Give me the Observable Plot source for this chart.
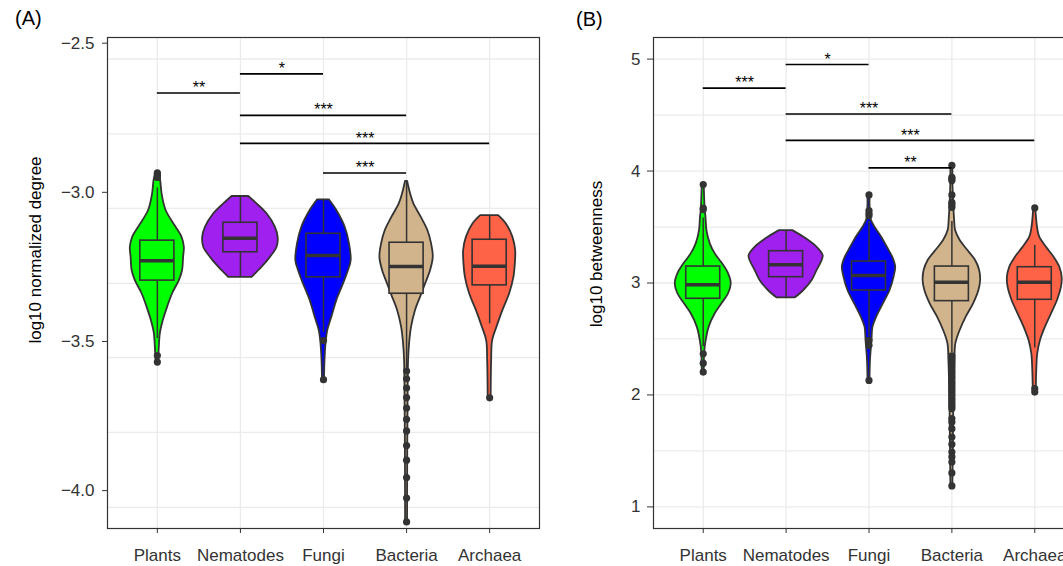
<!DOCTYPE html>
<html><head><meta charset="utf-8">
<script src="https://cdn.jsdelivr.net/npm/d3@7"></script>
<script src="https://cdn.jsdelivr.net/npm/@observablehq/plot@0.6"></script>
<style>
html,body{margin:0;padding:0;overflow:hidden;background:#fff;}
#wrap{position:relative;width:1063px;height:566px;overflow:hidden;font-family:"Liberation Sans",Arial,sans-serif;}
#pa,#pb{position:absolute;top:0;}
#pa{left:0;width:545px;} #pb{left:545px;width:539px;}
#wrap svg{max-width:none !important;}
.tag{position:absolute;font-size:20px;line-height:1;color:#000;}
</style></head><body>
<div id="wrap"><div id="pa"></div><div id="pb"></div>
<div class="tag" style="left:15px;top:8px">(A)</div>
<div class="tag" style="left:576px;top:9px">(B)</div></div>
<script>
// ---------- categories & colours ----------
const categories = ["Plants", "Nematodes", "Fungi", "Bacteria", "Archaea"];
const palette = ["#00FF00", "#A020F0", "#0000FF", "#D2B48C", "#FF6347"];

// ---------- Panel A: log10 normalized degree ----------
// violin outlines: [value, half-width (x units)]
const vA_Plants = [[-2.935,0.012],[-2.944,0.024],[-2.961,0.040],[-3.005,0.057],[-3.061,0.105],[-3.117,0.225],[-3.151,0.297],[-3.184,0.325],[-3.218,0.316],[-3.262,0.304],[-3.296,0.265],[-3.340,0.184],[-3.385,0.124],[-3.430,0.072],[-3.474,0.036],[-3.519,0.024],[-3.569,0.015]];
const vA_Nematodes = [[-3.014,0.100],[-3.039,0.200],[-3.072,0.320],[-3.117,0.420],[-3.151,0.454],[-3.184,0.442],[-3.218,0.361],[-3.251,0.261],[-3.285,0.141]];
const vA_Fungi = [[-3.025,0.070],[-3.061,0.160],[-3.117,0.261],[-3.173,0.313],[-3.229,0.333],[-3.262,0.301],[-3.307,0.241],[-3.363,0.160],[-3.419,0.100],[-3.463,0.052],[-3.508,0.030],[-3.564,0.018],[-3.628,0.012]];
const vA_Bacteria = [[-2.963,0.012],[-3.005,0.048],[-3.039,0.088],[-3.084,0.177],[-3.128,0.256],[-3.173,0.301],[-3.218,0.321],[-3.262,0.289],[-3.307,0.229],[-3.352,0.168],[-3.396,0.108],[-3.452,0.060],[-3.508,0.036],[-3.564,0.024],[-3.698,0.018],[-3.865,0.014],[-4.105,0.012]];
const vA_Archaea = [[-3.078,0.108],[-3.106,0.201],[-3.151,0.280],[-3.195,0.313],[-3.240,0.309],[-3.285,0.292],[-3.340,0.241],[-3.396,0.160],[-3.452,0.088],[-3.497,0.036],[-3.564,0.024],[-3.689,0.018]];
// box statistics
const boxA_lo  = [-3.490, -3.285, -3.470, -3.590, -3.441];
const boxA_q1  = [-3.296, -3.201, -3.285, -3.340, -3.312];
const boxA_med = [-3.229, -3.154, -3.212, -3.249, -3.248];
const boxA_q3  = [-3.162, -3.102, -3.139, -3.169, -3.159];
const boxA_hi  = [-2.985, -3.016, -3.027, -2.965, -3.080];
// outliers
const outA_Plants = [-2.935, -2.940, -2.945, -2.950, -3.547, -3.569];
const outA_Nematodes = [];
const outA_Fungi = [-3.497, -3.628];
const outA_Bacteria = [-3.599, -3.625, -3.656, -3.688, -3.723, -3.761, -3.800, -3.849, -3.898, -3.956, -4.025, -4.105];
const outA_Archaea = [-3.689];
// significance brackets (category index from/to)
const brA_from = [1, 2, 2, 2, 3];
const brA_to   = [2, 3, 4, 5, 4];
const brA_y    = [-2.667, -2.603, -2.742, -2.836, -2.935];
const brA_lab  = ["**", "*", "***", "***", "***"];
// axis
const ticksA = [-4.0, -3.5, -3.0, -2.5];
const gridA = [-2.553, -2.804, -3.054, -3.305, -3.554, -3.805, -4.056];
const domainA = [-4.127, -2.481];

// ---------- Panel B: log10 betweenness ----------
const vB_Plants = [[3.879,0.012],[3.647,0.024],[3.587,0.033],[3.468,0.045],[3.350,0.085],[3.260,0.145],[3.171,0.233],[3.082,0.306],[2.993,0.338],[2.904,0.306],[2.814,0.226],[2.725,0.145],[2.606,0.072],[2.487,0.036],[2.383,0.018],[2.204,0.012]];
const vB_Nematodes = [[3.468,0.081],[3.409,0.214],[3.319,0.374],[3.245,0.447],[3.201,0.435],[3.112,0.374],[3.022,0.314],[2.933,0.214],[2.868,0.112]];
const vB_Fungi = [[3.787,0.012],[3.602,0.018],[3.558,0.030],[3.498,0.072],[3.409,0.153],[3.319,0.221],[3.230,0.286],[3.141,0.322],[3.052,0.302],[2.933,0.254],[2.814,0.173],[2.695,0.093],[2.606,0.048],[2.487,0.036],[2.308,0.018],[2.130,0.012]];
const vB_Bacteria = [[4.057,0.012],[3.825,0.015],[3.558,0.033],[3.468,0.045],[3.379,0.100],[3.290,0.193],[3.201,0.286],[3.112,0.335],[3.022,0.347],[2.933,0.326],[2.814,0.262],[2.695,0.173],[2.576,0.100],[2.458,0.048],[2.308,0.036],[1.952,0.024],[1.595,0.018],[1.187,0.012]];
const vB_Archaea = [[3.671,0.012],[3.498,0.033],[3.409,0.060],[3.319,0.141],[3.230,0.233],[3.141,0.302],[3.052,0.330],[2.963,0.322],[2.844,0.274],[2.725,0.202],[2.606,0.129],[2.487,0.069],[2.368,0.036],[2.220,0.024],[2.026,0.018]];
const boxB_lo  = [2.430, 2.870, 2.520, 2.380, 2.420];
const boxB_q1  = [2.859, 3.052, 2.933, 2.838, 2.850];
const boxB_med = [2.984, 3.162, 3.067, 3.007, 3.007];
const boxB_q3  = [3.147, 3.284, 3.192, 3.147, 3.141];
const boxB_hi  = [3.580, 3.465, 3.550, 3.550, 3.335];
const outB_Plants = [3.879, 3.670, 3.656, 2.368, 2.284, 2.204];
const outB_Nematodes = [];
const outB_Fungi = [3.787, 3.647, 3.620, 3.600, 2.487, 2.443, 2.130];
const outB_Bacteria = [4.050, 3.944, 3.930, 3.915, 3.787, 3.720, 3.700, 3.676,
  2.350, 2.324, 2.300, 2.279, 2.257, 2.235, 2.210, 2.190, 2.168, 2.145, 2.120, 2.101, 2.080, 2.056, 2.035, 2.012, 1.990, 1.967, 1.945, 1.922, 1.900, 1.878, 1.789, 1.758, 1.699, 1.624, 1.559, 1.490, 1.446, 1.401, 1.303, 1.187];
const outB_Archaea = [3.671, 2.056, 2.026];
const brB_from = [1, 2, 2, 2, 3];
const brB_to   = [2, 3, 4, 5, 4];
const brB_y    = [4.741, 4.952, 4.509, 4.274, 4.028];
const brB_lab  = ["***", "*", "***", "***", "**"];
const ticksB = [1, 2, 3, 4, 5];
const gridB = [1, 1.5, 2, 2.5, 3, 3.5, 4, 4.5, 5];
const domainB = [0.807, 5.193];

// ---------- drawing ----------
const FONT = '"Liberation Sans", Arial, Helvetica, sans-serif';
const BOX = 0.205;
const idx = categories.map((c, i) => i + 1);

function panel(cfg) {
  const vrows = [];
  cfg.violins.forEach((arr, i) => arr.forEach(([v, w]) => vrows.push({cat: categories[i], i: i + 1, v, w})));
  const brows = categories.map((c, i) => ({cat: c, i: i + 1, lo: cfg.lo[i], q1: cfg.q1[i], med: cfg.med[i], q3: cfg.q3[i], hi: cfg.hi[i]}));
  const orows = [];
  cfg.outliers.forEach((arr, i) => arr.forEach(v => orows.push({i: i + 1, v})));
  const brk = cfg.brFrom.map((f, k) => ({from: f, to: cfg.brTo[k], y: cfg.brY[k], label: cfg.brLab[k]}));
  return Plot.plot({
    width: cfg.width, height: 566,
    marginLeft: cfg.marginLeft, marginRight: cfg.marginRight, marginTop: 37, marginBottom: 38,
    style: {fontFamily: FONT, fontSize: "17px", background: "white", overflow: "visible", maxWidth: "none"},
    x: {domain: [0.4, 5.6], label: null, axis: null},
    y: {domain: cfg.yDomain, label: null, axis: null},
    color: {domain: categories, range: palette},
    marks: [
      Plot.ruleY(cfg.grid, {stroke: "#ebebeb", strokeWidth: 1.3}),
      Plot.ruleX(idx, {stroke: "#ebebeb", strokeWidth: 1.3}),
      Plot.areaX(vrows, {y: "v", x1: d => d.i - d.w, x2: d => d.i + d.w, z: "cat", fill: "cat",
        stroke: "#333", strokeWidth: 1.8, curve: "catmull-rom"}),
      Plot.ruleX(brows, {x: "i", y1: "lo", y2: "hi", stroke: "#333", strokeWidth: 1.5}),
      Plot.rect(brows, {x1: d => d.i - BOX, x2: d => d.i + BOX, y1: "q1", y2: "q3", fill: "cat", stroke: "#333", strokeWidth: 1.6}),
      Plot.ruleY(brows, {y: "med", x1: d => d.i - BOX, x2: d => d.i + BOX, stroke: "#333", strokeWidth: 3.5}),
      Plot.dot(orows, {x: "i", y: "v", r: 3.6, fill: "#333"}),
      Plot.ruleY(brk, {y: "y", x1: "from", x2: "to", stroke: "#000", strokeWidth: 1.6}),
      Plot.text(brk, {x: d => (d.from + d.to) / 2, y: "y", text: "label", dy: -5, fontSize: 16, fill: "#000"}),
      Plot.frame({stroke: "#333", strokeWidth: 1.2}),
      Plot.axisY(cfg.yTicks, {tickFormat: cfg.yFormat, tickSize: cfg.tickSize, tickPadding: cfg.tickPadding,
        fontSize: 17, color: "#333", label: null}),
      Plot.axisX(idx, {tickFormat: i => categories[i - 1], tickSize: 5, tickPadding: 15.5,
        fontSize: 17, color: "#333", label: null}),
      Plot.text([cfg.ylabel], {frameAnchor: "left", textAnchor: "middle", rotate: -90,
        dx: cfg.ylabelDx, dy: cfg.ylabelDy, fontSize: 17, fill: "#000"})
    ]
  });
}

document.getElementById("pa").appendChild(panel({
  width: 545, marginLeft: 107, marginRight: 6,
  violins: [vA_Plants, vA_Nematodes, vA_Fungi, vA_Bacteria, vA_Archaea],
  lo: boxA_lo, q1: boxA_q1, med: boxA_med, q3: boxA_q3, hi: boxA_hi,
  outliers: [outA_Plants, outA_Nematodes, outA_Fungi, outA_Bacteria, outA_Archaea],
  brFrom: brA_from, brTo: brA_to, brY: brA_y, brLab: brA_lab,
  yDomain: domainA, yTicks: ticksA, yFormat: d3.format(".1f"), grid: gridA,
  tickSize: 5, tickPadding: 8,
  ylabel: "log10 normalized degree", ylabelDx: -72, ylabelDy: -33
}));

document.getElementById("pb").appendChild(panel({
  width: 539, marginLeft: 108, marginRight: 0,
  violins: [vB_Plants, vB_Nematodes, vB_Fungi, vB_Bacteria, vB_Archaea],
  lo: boxB_lo, q1: boxB_q1, med: boxB_med, q3: boxB_q3, hi: boxB_hi,
  outliers: [outB_Plants, outB_Nematodes, outB_Fungi, outB_Bacteria, outB_Archaea],
  brFrom: brB_from, brTo: brB_to, brY: brB_y, brLab: brB_lab,
  yDomain: domainB, yTicks: ticksB, yFormat: d3.format("d"), grid: gridB,
  tickSize: 6, tickPadding: 7,
  ylabel: "log10 betweenness", ylabelDx: -57, ylabelDy: -29
}));
</script></body></html>
